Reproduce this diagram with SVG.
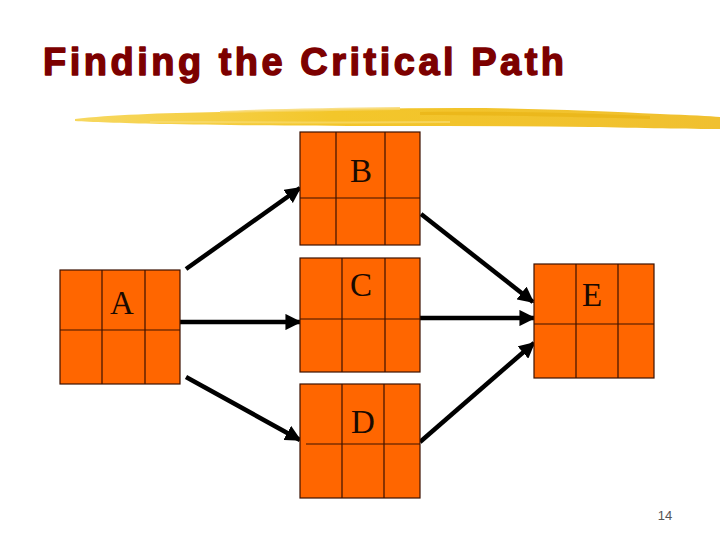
<svg xmlns="http://www.w3.org/2000/svg" width="720" height="540" viewBox="0 0 720 540">
<defs>
<style>
.cell{fill:#ff6600;stroke:#3d1200;stroke-width:1.2}
.div{stroke:#3d1200;stroke-width:1.2;fill:none}
.lbl{font-family:"Liberation Serif","Times New Roman",serif;font-size:33px;fill:#1a0a00;text-anchor:middle}
.arr{stroke:#000;stroke-width:4.5;fill:none;marker-end:url(#ah)}
.title{font-family:"Liberation Sans",Arial,sans-serif;font-weight:bold;font-size:38px;fill:#7c0000;stroke:#7c0000;stroke-width:1.4;stroke-linejoin:round}
</style>
<marker id="ah" viewBox="0 0 10 10" refX="9" refY="5" markerWidth="3.6" markerHeight="3.6" orient="auto" markerUnits="strokeWidth">
<path d="M0,0 L10,5 L0,10 Z" fill="#000"/>
</marker>
<linearGradient id="brush" x1="0" y1="0" x2="1" y2="0">
<stop offset="0" stop-color="#f7d860"/>
<stop offset="0.4" stop-color="#f3c62a"/>
<stop offset="1" stop-color="#f0c030"/>
</linearGradient>
</defs>
<rect width="720" height="540" fill="#fff"/>
<g id="title">
<text class="title" x="43" y="75" textLength="521" lengthAdjust="spacing">Finding the Critical Path</text>
</g>
<g id="brushstroke">
<path d="M75,119 C110,115 160,113 220,112 C300,110 380,108 460,108 C530,108 600,111 660,114 C690,115 710,116 720,117 L720,129 C690,129 640,128 590,127 C520,126 450,126 380,126 C300,126 220,125 160,124 C120,123 90,122 75,121 Z" fill="url(#brush)"/>
<path d="M220,111 C260,109 330,108 400,107 L400,110 C330,111 260,112 220,113 Z" fill="#f7d76a" opacity="0.8"/>
<path d="M420,112 C500,111 580,113 650,116 L650,119 C580,117 500,115 420,115 Z" fill="#e8b010" opacity="0.6"/>
<path d="M150,121 C250,121 350,122 450,121 L450,123 C350,124 250,123 150,123 Z" fill="#f8dc70" opacity="0.7"/>
</g>
<g id="connectors">
<line class="arr" x1="186" y1="269" x2="300" y2="188"/>
<line class="arr" x1="180" y1="322" x2="300" y2="322"/>
<line class="arr" x1="186" y1="377" x2="300" y2="440"/>
<line class="arr" x1="421" y1="214" x2="533" y2="302"/>
<line class="arr" x1="420" y1="318" x2="534" y2="318"/>
<line class="arr" x1="420" y1="442" x2="534" y2="343"/>
</g>
<g id="node-A">
<rect class="cell" x="60" y="270" width="120" height="114"/>
<path class="div" d="M102,270 V384 M145,270 V384 M60,330 H180"/>
<text class="lbl" x="122" y="314">A</text>
</g>
<g id="node-B">
<rect class="cell" x="300" y="132" width="120" height="113"/>
<path class="div" d="M336,132 V245 M385,132 V245 M300,198 H420"/>
<text class="lbl" x="361" y="182">B</text>
</g>
<g id="node-C">
<rect class="cell" x="300" y="258" width="120" height="114"/>
<path class="div" d="M342,258 V372 M385,258 V372 M300,319 H420"/>
<text class="lbl" x="361" y="296">C</text>
</g>
<g id="node-D">
<rect class="cell" x="300" y="384" width="120" height="114"/>
<path class="div" d="M342,384 V498 M384,384 V498 M306,444 H420"/>
<text class="lbl" x="363" y="433">D</text>
</g>
<g id="node-E">
<rect class="cell" x="534" y="264" width="120" height="114"/>
<path class="div" d="M576,264 V378 M618,264 V378 M534,324 H654"/>
<text class="lbl" x="592" y="306">E</text>
</g>
<g id="page-number">
<text x="665" y="520" font-family="Liberation Sans,Arial,sans-serif" font-size="13" fill="#555" text-anchor="middle">14</text>
</g>
</svg>
